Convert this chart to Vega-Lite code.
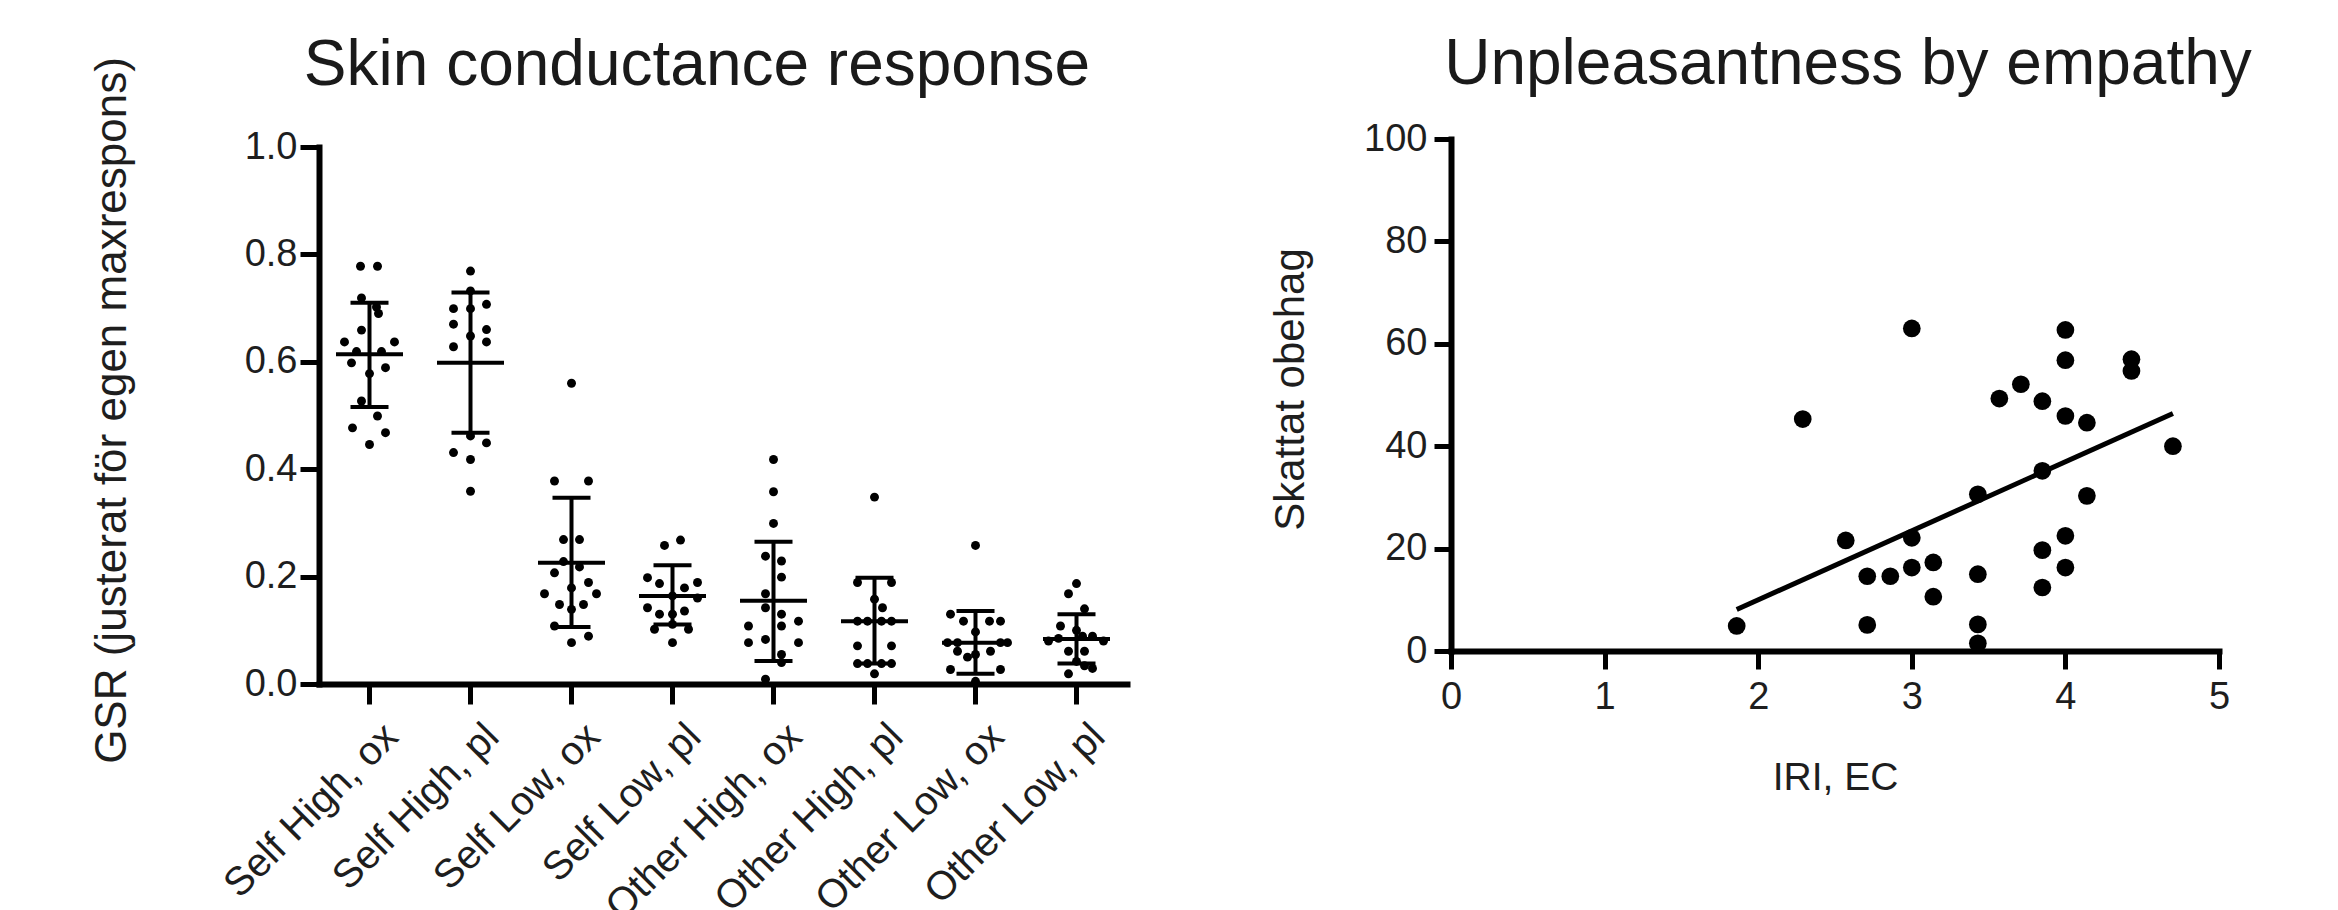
{
  "$schema": "https://vega.github.io/schema/vega-lite/v6.json",
  "padding": {"left": 89, "top": 33, "right": 0, "bottom": 0},
  "background": "white",
  "spacing": 141,
  "config": {
    "view": {"stroke": null},
    "font": "Liberation Sans",
    "axis": {
      "grid": false,
      "domainColor": "black",
      "domainWidth": 6,
      "domainCap": "square",
      "tickColor": "black",
      "tickWidth": 5,
      "labelColor": "#1e1e1e",
      "labelFont": "Liberation Sans",
      "titleFont": "Liberation Sans",
      "titleColor": "#1e1e1e",
      "titleFontWeight": "normal",
      "labelFlush": false,
      "labelOverlap": false,
      "labelBound": false,
      "labelLimit": 0
    },
    "title": {"font": "Liberation Sans", "fontSize": 64, "fontWeight": "normal", "color": "#1a1a1a", "baseline": "alphabetic"}
  },
  "datasets": {
    "gsr": [
      {"g": "Self High, ox", "v": 0.778, "dx": -9},
      {"g": "Self High, ox", "v": 0.778, "dx": 8},
      {"g": "Self High, ox", "v": 0.719, "dx": -8},
      {"g": "Self High, ox", "v": 0.702, "dx": 7},
      {"g": "Self High, ox", "v": 0.690, "dx": 9},
      {"g": "Self High, ox", "v": 0.659, "dx": -8},
      {"g": "Self High, ox", "v": 0.637, "dx": -25},
      {"g": "Self High, ox", "v": 0.637, "dx": 25},
      {"g": "Self High, ox", "v": 0.619, "dx": -13},
      {"g": "Self High, ox", "v": 0.619, "dx": 12},
      {"g": "Self High, ox", "v": 0.598, "dx": -18},
      {"g": "Self High, ox", "v": 0.589, "dx": 16},
      {"g": "Self High, ox", "v": 0.578, "dx": 0},
      {"g": "Self High, ox", "v": 0.527, "dx": -8},
      {"g": "Self High, ox", "v": 0.499, "dx": 8},
      {"g": "Self High, ox", "v": 0.477, "dx": -17},
      {"g": "Self High, ox", "v": 0.468, "dx": 16},
      {"g": "Self High, ox", "v": 0.446, "dx": 0},
      {"g": "Self High, pl", "v": 0.769, "dx": 0},
      {"g": "Self High, pl", "v": 0.732, "dx": 0},
      {"g": "Self High, pl", "v": 0.707, "dx": 16},
      {"g": "Self High, pl", "v": 0.699, "dx": -17},
      {"g": "Self High, pl", "v": 0.699, "dx": 0},
      {"g": "Self High, pl", "v": 0.670, "dx": -17},
      {"g": "Self High, pl", "v": 0.660, "dx": 16},
      {"g": "Self High, pl", "v": 0.648, "dx": 0},
      {"g": "Self High, pl", "v": 0.637, "dx": 16},
      {"g": "Self High, pl", "v": 0.628, "dx": -17},
      {"g": "Self High, pl", "v": 0.462, "dx": 0},
      {"g": "Self High, pl", "v": 0.449, "dx": 16},
      {"g": "Self High, pl", "v": 0.431, "dx": -17},
      {"g": "Self High, pl", "v": 0.418, "dx": 0},
      {"g": "Self High, pl", "v": 0.359, "dx": 0},
      {"g": "Self Low, ox", "v": 0.560, "dx": 0},
      {"g": "Self Low, ox", "v": 0.378, "dx": -17},
      {"g": "Self Low, ox", "v": 0.378, "dx": 17},
      {"g": "Self Low, ox", "v": 0.269, "dx": -8},
      {"g": "Self Low, ox", "v": 0.269, "dx": 8},
      {"g": "Self Low, ox", "v": 0.228, "dx": -8},
      {"g": "Self Low, ox", "v": 0.218, "dx": 8},
      {"g": "Self Low, ox", "v": 0.207, "dx": -17},
      {"g": "Self Low, ox", "v": 0.189, "dx": 17},
      {"g": "Self Low, ox", "v": 0.179, "dx": 0},
      {"g": "Self Low, ox", "v": 0.168, "dx": -27},
      {"g": "Self Low, ox", "v": 0.168, "dx": 25},
      {"g": "Self Low, ox", "v": 0.148, "dx": -12},
      {"g": "Self Low, ox", "v": 0.148, "dx": 12},
      {"g": "Self Low, ox", "v": 0.139, "dx": 0},
      {"g": "Self Low, ox", "v": 0.108, "dx": -17},
      {"g": "Self Low, ox", "v": 0.089, "dx": 17},
      {"g": "Self Low, ox", "v": 0.077, "dx": 0},
      {"g": "Self Low, pl", "v": 0.268, "dx": 8},
      {"g": "Self Low, pl", "v": 0.258, "dx": -8},
      {"g": "Self Low, pl", "v": 0.198, "dx": -25},
      {"g": "Self Low, pl", "v": 0.189, "dx": 25},
      {"g": "Self Low, pl", "v": 0.187, "dx": -13},
      {"g": "Self Low, pl", "v": 0.179, "dx": 12},
      {"g": "Self Low, pl", "v": 0.164, "dx": 0},
      {"g": "Self Low, pl", "v": 0.160, "dx": 25},
      {"g": "Self Low, pl", "v": 0.142, "dx": -25},
      {"g": "Self Low, pl", "v": 0.136, "dx": 12},
      {"g": "Self Low, pl", "v": 0.130, "dx": -13},
      {"g": "Self Low, pl", "v": 0.130, "dx": 0},
      {"g": "Self Low, pl", "v": 0.111, "dx": 0},
      {"g": "Self Low, pl", "v": 0.102, "dx": -18},
      {"g": "Self Low, pl", "v": 0.102, "dx": 16},
      {"g": "Self Low, pl", "v": 0.077, "dx": 0},
      {"g": "Other High, ox", "v": 0.418, "dx": 0},
      {"g": "Other High, ox", "v": 0.358, "dx": 0},
      {"g": "Other High, ox", "v": 0.299, "dx": 0},
      {"g": "Other High, ox", "v": 0.238, "dx": -8},
      {"g": "Other High, ox", "v": 0.229, "dx": 8},
      {"g": "Other High, ox", "v": 0.199, "dx": 8},
      {"g": "Other High, ox", "v": 0.168, "dx": -8},
      {"g": "Other High, ox", "v": 0.142, "dx": -8},
      {"g": "Other High, ox", "v": 0.130, "dx": 8},
      {"g": "Other High, ox", "v": 0.108, "dx": -25},
      {"g": "Other High, ox", "v": 0.108, "dx": 8},
      {"g": "Other High, ox", "v": 0.117, "dx": 25},
      {"g": "Other High, ox", "v": 0.077, "dx": -25},
      {"g": "Other High, ox", "v": 0.083, "dx": -8},
      {"g": "Other High, ox", "v": 0.077, "dx": 25},
      {"g": "Other High, ox", "v": 0.055, "dx": 8},
      {"g": "Other High, ox", "v": 0.040, "dx": 8},
      {"g": "Other High, ox", "v": 0.009, "dx": -8},
      {"g": "Other High, pl", "v": 0.348, "dx": 0},
      {"g": "Other High, pl", "v": 0.189, "dx": -17},
      {"g": "Other High, pl", "v": 0.189, "dx": 17},
      {"g": "Other High, pl", "v": 0.158, "dx": 0},
      {"g": "Other High, pl", "v": 0.142, "dx": 8},
      {"g": "Other High, pl", "v": 0.117, "dx": -17},
      {"g": "Other High, pl", "v": 0.117, "dx": -7},
      {"g": "Other High, pl", "v": 0.117, "dx": 7},
      {"g": "Other High, pl", "v": 0.117, "dx": 17},
      {"g": "Other High, pl", "v": 0.071, "dx": -17},
      {"g": "Other High, pl", "v": 0.071, "dx": 17},
      {"g": "Other High, pl", "v": 0.038, "dx": -17},
      {"g": "Other High, pl", "v": 0.038, "dx": -7},
      {"g": "Other High, pl", "v": 0.038, "dx": 7},
      {"g": "Other High, pl", "v": 0.038, "dx": 17},
      {"g": "Other High, pl", "v": 0.019, "dx": 0},
      {"g": "Other Low, ox", "v": 0.258, "dx": 0},
      {"g": "Other Low, ox", "v": 0.130, "dx": -25},
      {"g": "Other Low, ox", "v": 0.117, "dx": -12},
      {"g": "Other Low, ox", "v": 0.117, "dx": 14},
      {"g": "Other Low, ox", "v": 0.117, "dx": 25},
      {"g": "Other Low, ox", "v": 0.097, "dx": 0},
      {"g": "Other Low, ox", "v": 0.077, "dx": -28},
      {"g": "Other Low, ox", "v": 0.077, "dx": -18},
      {"g": "Other Low, ox", "v": 0.077, "dx": 25},
      {"g": "Other Low, ox", "v": 0.077, "dx": 32},
      {"g": "Other Low, ox", "v": 0.061, "dx": -18},
      {"g": "Other Low, ox", "v": 0.055, "dx": 0},
      {"g": "Other Low, ox", "v": 0.061, "dx": 15},
      {"g": "Other Low, ox", "v": 0.050, "dx": -8},
      {"g": "Other Low, ox", "v": 0.027, "dx": -25},
      {"g": "Other Low, ox", "v": 0.027, "dx": 25},
      {"g": "Other Low, ox", "v": 0.005, "dx": 0},
      {"g": "Other Low, pl", "v": 0.187, "dx": 0},
      {"g": "Other Low, pl", "v": 0.168, "dx": -8},
      {"g": "Other Low, pl", "v": 0.140, "dx": 8},
      {"g": "Other Low, pl", "v": 0.108, "dx": -16},
      {"g": "Other Low, pl", "v": 0.100, "dx": 0},
      {"g": "Other Low, pl", "v": 0.080, "dx": -28},
      {"g": "Other Low, pl", "v": 0.085, "dx": -18},
      {"g": "Other Low, pl", "v": 0.089, "dx": 16},
      {"g": "Other Low, pl", "v": 0.089, "dx": 6},
      {"g": "Other Low, pl", "v": 0.080, "dx": 27},
      {"g": "Other Low, pl", "v": 0.061, "dx": -8},
      {"g": "Other Low, pl", "v": 0.061, "dx": 8},
      {"g": "Other Low, pl", "v": 0.042, "dx": 0},
      {"g": "Other Low, pl", "v": 0.034, "dx": 8},
      {"g": "Other Low, pl", "v": 0.029, "dx": 16},
      {"g": "Other Low, pl", "v": 0.019, "dx": -8}
    ],
    "gsrSummary": [
      {"g": "Self High, ox", "mean": 0.614, "lo": 0.516, "hi": 0.710},
      {"g": "Self High, pl", "mean": 0.598, "lo": 0.468, "hi": 0.729},
      {"g": "Self Low, ox", "mean": 0.226, "lo": 0.106, "hi": 0.347},
      {"g": "Self Low, pl", "mean": 0.164, "lo": 0.111, "hi": 0.221},
      {"g": "Other High, ox", "mean": 0.155, "lo": 0.043, "hi": 0.265},
      {"g": "Other High, pl", "mean": 0.117, "lo": 0.038, "hi": 0.198},
      {"g": "Other Low, ox", "mean": 0.077, "lo": 0.019, "hi": 0.136},
      {"g": "Other Low, pl", "mean": 0.084, "lo": 0.038, "hi": 0.130}
    ],
    "empathy": [
      {"iri": 1.86, "obehag": 4.9},
      {"iri": 2.29, "obehag": 45.3},
      {"iri": 2.57, "obehag": 21.6},
      {"iri": 2.71, "obehag": 14.6},
      {"iri": 2.71, "obehag": 5.1},
      {"iri": 2.86, "obehag": 14.6},
      {"iri": 3.00, "obehag": 63.0},
      {"iri": 3.00, "obehag": 22.1},
      {"iri": 3.00, "obehag": 16.3},
      {"iri": 3.14, "obehag": 17.3},
      {"iri": 3.14, "obehag": 10.6},
      {"iri": 3.43, "obehag": 30.6},
      {"iri": 3.43, "obehag": 15.0},
      {"iri": 3.43, "obehag": 5.2},
      {"iri": 3.43, "obehag": 1.5},
      {"iri": 3.57, "obehag": 49.3},
      {"iri": 3.71, "obehag": 52.1},
      {"iri": 3.85, "obehag": 48.8},
      {"iri": 3.85, "obehag": 35.2},
      {"iri": 3.85, "obehag": 19.7},
      {"iri": 3.85, "obehag": 12.4},
      {"iri": 4.00, "obehag": 62.7},
      {"iri": 4.00, "obehag": 56.8},
      {"iri": 4.00, "obehag": 45.9},
      {"iri": 4.00, "obehag": 22.5},
      {"iri": 4.00, "obehag": 16.3},
      {"iri": 4.14, "obehag": 44.6},
      {"iri": 4.14, "obehag": 30.3},
      {"iri": 4.43, "obehag": 57.0},
      {"iri": 4.43, "obehag": 54.7},
      {"iri": 4.70, "obehag": 40.0}
    ],
    "fit": [
      {"iri": 1.86, "obehag": 8.1},
      {"iri": 4.70, "obehag": 46.4}
    ]
  },
  "hconcat": [
    {
      "width": 808,
      "height": 545,
      "title": {"text": "Skin conductance response", "offset": -41, "dx": -26},
      "encoding": {
        "x": {
          "field": "g",
          "type": "nominal",
          "sort": ["Self High, ox", "Self High, pl", "Self Low, ox", "Self Low, pl", "Other High, ox", "Other High, pl", "Other Low, ox", "Other Low, pl"],
          "scale": {"paddingInner": 0, "paddingOuter": 0},
          "axis": {"title": null, "labelAngle": -45, "labelFontSize": 40, "labelPadding": 12, "labelOffset": 8, "tickSize": 20}
        }
      },
      "layer": [
        {
          "data": {"name": "gsr"},
          "mark": {"type": "point", "filled": true, "size": 80, "color": "black", "opacity": 1},
          "encoding": {
            "xOffset": {"field": "dx", "type": "quantitative", "scale": {"domain": [-50.5, 50.5]}},
            "y": {
              "field": "v",
              "type": "quantitative",
              "scale": {"domain": [0, 1], "nice": false, "range": [545, 8]},
              "axis": {
                "values": [0, 0.2, 0.4, 0.6, 0.8, 1.0],
                "format": ".1f",
                "labelFontSize": 38,
                "labelPadding": 3,
                "tickSize": 19,
                "title": "GSR (justerat för egen maxrespons)",
                "titleFontSize": 44,
                "titleX": -185,
                "titleY": 271
              }
            }
          }
        },
        {
          "data": {"name": "gsrSummary"},
          "mark": {"type": "tick", "size": 67, "thickness": 4, "color": "black", "opacity": 1},
          "encoding": {"y": {"field": "mean", "type": "quantitative"}}
        },
        {
          "data": {"name": "gsrSummary"},
          "mark": {"type": "rule", "strokeWidth": 4, "color": "black"},
          "encoding": {"y": {"field": "lo", "type": "quantitative"}, "y2": {"field": "hi"}}
        },
        {
          "data": {"name": "gsrSummary"},
          "mark": {"type": "tick", "size": 38, "thickness": 4, "color": "black", "opacity": 1},
          "encoding": {"y": {"field": "lo", "type": "quantitative"}}
        },
        {
          "data": {"name": "gsrSummary"},
          "mark": {"type": "tick", "size": 38, "thickness": 4, "color": "black", "opacity": 1},
          "encoding": {"y": {"field": "hi", "type": "quantitative"}}
        }
      ]
    },
    {
      "width": 768,
      "height": 512,
      "title": {"text": "Unpleasantness by empathy", "offset": 23, "dx": 13},
      "encoding": {
        "x": {
          "field": "iri",
          "type": "quantitative",
          "scale": {"domain": [0, 5], "nice": false, "zero": false},
          "axis": {"values": [0, 1, 2, 3, 4, 5], "labelFontSize": 38, "labelPadding": 9, "tickSize": 18, "title": "IRI, EC", "titleFontSize": 39, "titlePadding": 42}
        },
        "y": {
          "field": "obehag",
          "type": "quantitative",
          "scale": {"domain": [0, 100], "nice": false},
          "axis": {"values": [0, 20, 40, 60, 80, 100], "labelFontSize": 38, "labelPadding": 7, "tickSize": 17, "title": "Skattat obehag", "titleFontSize": 42, "titleX": -139, "titleY": 250}
        }
      },
      "layer": [
        {
          "data": {"name": "empathy"},
          "mark": {"type": "point", "filled": true, "size": 314, "color": "black", "opacity": 1}
        },
        {
          "data": {"name": "fit"},
          "mark": {"type": "line", "strokeWidth": 5, "color": "black"}
        }
      ]
    }
  ]
}
